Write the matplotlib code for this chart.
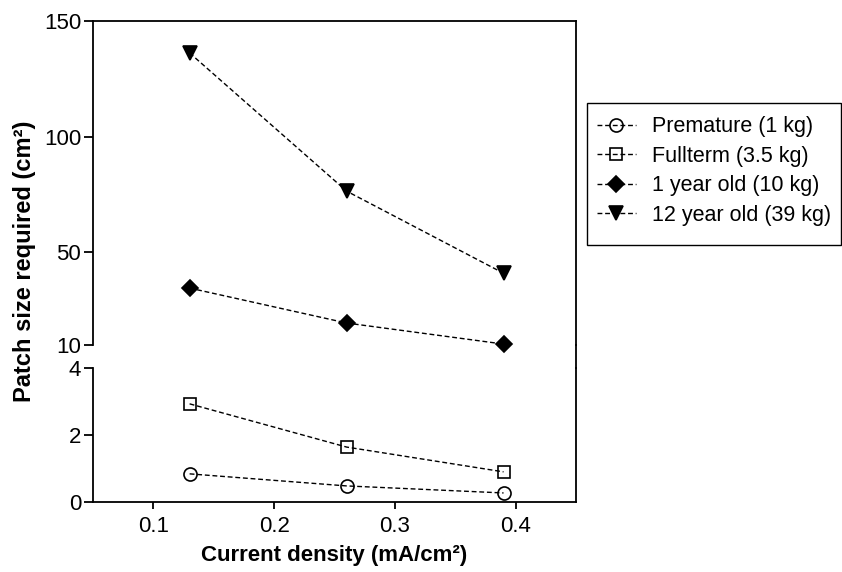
import matplotlib
matplotlib.use("Agg")
import matplotlib.pyplot as plt
from matplotlib.lines import Line2D
from matplotlib.patches import Rectangle

# values
current_density = [0.13, 0.26, 0.39]
premature = [0.84, 0.48, 0.27]
fullterm = [2.93, 1.64, 0.90]
one_year = [34.6, 19.5, 10.4]
twelve_year = [136.2, 76.5, 41.0]

series_labels = ["Premature (1 kg)", "Fullterm (3.5 kg)",
                 "1 year old (10 kg)", "12 year old (39 kg)"]
x_ticks = [0.1, 0.2, 0.3, 0.4]
upper_ticks = [10, 50, 100, 150]
lower_ticks = [0, 2, 4]

W, H = 842, 572


def fx(px):
    return px / W


def fy(py):
    return 1 - py / H


def main():
    plt.rcParams['font.family'] = ['Liberation Sans', 'DejaVu Sans']
    plt.rcParams['font.size'] = 16

    fig = plt.figure(figsize=(W / 100, H / 100), dpi=100)
    left, right = fx(93), fx(576)
    ax_up = fig.add_axes([left, fy(345), right - left, fy(21) - fy(345)])
    ax_lo = fig.add_axes([left, fy(502), right - left, fy(368) - fy(502)])

    line_kw = dict(color='black', lw=1.0, linestyle=(0, (3.5, 2.0)),
                   markeredgewidth=1.2, clip_on=False)

    h1, = ax_lo.plot(current_density, premature, marker='o', ms=9.4,
                     mfc='none', mec='black', **line_kw)
    h2, = ax_lo.plot(current_density, fullterm, marker='s', ms=9.2,
                     mfc='none', mec='black', **line_kw)
    h3, = ax_up.plot(current_density, one_year, marker='D', ms=8.0,
                     mfc='black', mec='black', **line_kw)
    h4, = ax_up.plot(current_density, twelve_year, marker='v', ms=10.0,
                     mfc='black', mec='black', **line_kw)

    for ax in (ax_up, ax_lo):
        ax.set_xlim(0.05, 0.45)
        for s in ax.spines.values():
            s.set_linewidth(1.3)
        ax.tick_params(axis='y', direction='out', length=6.5, width=1.3,
                       pad=2, labelsize=16)
        ax.tick_params(axis='y', which='minor', direction='in', length=5,
                       width=1.3)

    ax_up.set_ylim(10, 150)
    ax_up.set_yticks(upper_ticks)
    ax_up.set_yticks([10], minor=True)
    ax_up.spines['bottom'].set_visible(False)
    ax_up.tick_params(axis='x', bottom=False, labelbottom=False)

    ax_lo.set_ylim(0, 4)
    ax_lo.set_yticks(lower_ticks)
    ax_lo.set_yticks([4], minor=True)
    ax_lo.spines['top'].set_visible(False)
    ax_lo.set_xticks(x_ticks)
    ax_lo.set_xticklabels([f"{t:.1f}" for t in x_ticks])
    ax_lo.tick_params(axis='x', direction='out', length=5, width=1.3,
                      pad=5, labelsize=16)

    # right border continues across the break
    fig.add_artist(Line2D([right, right], [fy(345), fy(368)],
                          color='black', lw=1.3, transform=fig.transFigure))

    fig.text(fx(25), fy(261), "Patch size required (cm²)", rotation=90,
             ha='center', va='center', fontsize=17, fontweight='bold')
    fig.text(fx(334.5), fy(556), "Current density (mA/cm²)",
             ha='center', va='center', fontsize=16, fontweight='bold')

    fig.add_artist(Rectangle((fx(587), fy(245)), fx(841) - fx(587),
                             fy(103) - fy(245), transform=fig.transFigure,
                             fill=False, edgecolor='black', lw=1.0))
    fig.legend([h1, h2, h3, h4], series_labels, loc='center left',
               bbox_to_anchor=(fx(597), fy(171)), borderaxespad=0,
               borderpad=0, frameon=False, numpoints=1, handlelength=1.8,
               handletextpad=0.75, labelspacing=0.4, fontsize=15.5)

    fig.savefig("out.png", dpi=100)


if __name__ == "__main__":
    main()
